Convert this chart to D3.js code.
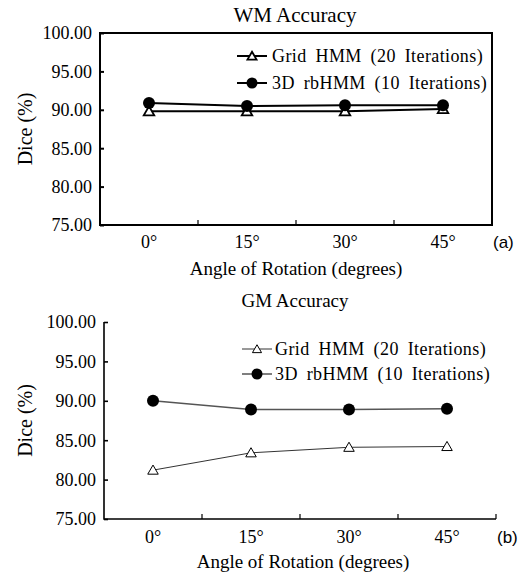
<!DOCTYPE html>
<html>
<head>
<meta charset="utf-8">
<script src="https://cdn.jsdelivr.net/npm/d3@7"></script>
<style>
  body { margin: 0; background: #fff; }
</style>
</head>
<body>
<div id="chartMain"></div>
<script>
const angles = ["0°", "15°", "30°", "45°"];
const yTicks = [75, 80, 85, 90, 95, 100];
const seriesNames = ["Grid HMM (20 Iterations)", "3D rbHMM (10 Iterations)"];
const wmGrid = [89.8, 89.8, 89.8, 90.1];
const wmRb = [90.9, 90.5, 90.6, 90.6];
const gmGrid = [81.2, 83.4, 84.1, 84.2];
const gmRb = [90.0, 88.9, 88.9, 89.0];

const serif = '"Liberation Serif", "Times New Roman", serif';

const svg = d3.select('#chartMain')
    .append('svg')
    .attr('width', 524)
    .attr('height', 573)
    .style('font-family', serif);

function drawPanel(p) {
    const g = svg.append('g').attr('transform', `translate(${p.left},${p.top})`);
    const w = p.width, h = p.height;

    const x = d3.scaleBand().domain(angles).range([0, w]).padding(0);
    const y = d3.scaleLinear().domain([75, 100]).range([h, 0]);

    // title
    g.append('text')
        .attr('x', p.titleX - p.left)
        .attr('y', p.titleDy)
        .attr('text-anchor', 'middle')
        .style('font-size', p.titleSize + 'px')
        .text(p.title);

    // y axis: inward ticks
    const yAxis = d3.axisRight(y).tickValues(yTicks).tickSize(4);
    const ya = g.append('g').call(yAxis);
    ya.select('.domain').remove();
    ya.selectAll('text').remove();
    ya.selectAll('line').attr('stroke', '#000').attr('stroke-width', p.axisW);
    g.selectAll('.ylab')
        .data(yTicks)
        .join('text')
        .attr('class', 'ylab')
        .attr('x', -8)
        .attr('y', d => y(d))
        .attr('dy', '0.35em')
        .attr('text-anchor', 'end')
        .style('font-size', '18px')
        .text(d3.format('.2f'));

    // x ticks at band boundaries, pointing up
    const bounds = p.frame ? [1, 2, 3] : [1, 2, 3, 4];
    g.selectAll('.xtick')
        .data(bounds)
        .join('line')
        .attr('x1', i => x.step() * i)
        .attr('x2', i => x.step() * i)
        .attr('y1', h)
        .attr('y2', h - 5)
        .attr('stroke', '#000')
        .attr('stroke-width', 1.2);

    g.selectAll('.xlab')
        .data(angles)
        .join('text')
        .attr('x', d => x(d) + x.bandwidth() / 2)
        .attr('y', h + p.xLabDy)
        .attr('text-anchor', 'middle')
        .style('font-size', '18px')
        .text(d => d);

    // frame / axes
    if (p.frame) {
        g.append('rect')
            .attr('width', w).attr('height', h)
            .attr('fill', 'none').attr('stroke', '#000').attr('stroke-width', p.axisW);
    } else {
        g.append('path')
            .attr('d', `M0,0V${h}H${w}`)
            .attr('fill', 'none').attr('stroke', '#000').attr('stroke-width', p.axisW);
    }

    // axis titles
    g.append('text')
        .attr('x', p.xTitleX - p.left)
        .attr('y', h + p.xTitleDy)
        .attr('text-anchor', 'middle')
        .style('font-size', '19px')
        .text('Angle of Rotation (degrees)');

    g.append('text')
        .attr('transform', `translate(${25 - p.left},${h / 2}) rotate(-90)`)
        .attr('dy', '0.35em')
        .attr('text-anchor', 'middle')
        .style('font-size', '20px')
        .text('Dice (%)');

    g.append('text')
        .attr('x', w + 1)
        .attr('y', h + p.xLabDy)
        .style('font-family', '"Liberation Sans", Arial, sans-serif')
        .style('font-size', '17px')
        .text(p.tag);

    // series
    const line = d3.line()
        .x((d, i) => x(angles[i]) + x.bandwidth() / 2)
        .y(d => y(d));

    const tri = d3.symbol().type(d3.symbolTriangle).size(48);

    g.append('path')
        .datum(p.grid)
        .attr('fill', 'none')
        .attr('stroke', p.gridColor)
        .attr('stroke-width', p.gridW)
        .attr('d', line);

    g.append('path')
        .datum(p.rb)
        .attr('fill', 'none')
        .attr('stroke', p.rbColor)
        .attr('stroke-width', p.rbW)
        .attr('d', line);

    g.selectAll('.tri')
        .data(p.grid)
        .join('path')
        .attr('transform', (d, i) => `translate(${x(angles[i]) + x.bandwidth() / 2},${y(d) + 1})`)
        .attr('d', tri)
        .attr('fill', '#fff')
        .attr('stroke', '#000')
        .attr('stroke-width', p.triW);

    g.selectAll('.dot')
        .data(p.rb)
        .join('circle')
        .attr('cx', (d, i) => x(angles[i]) + x.bandwidth() / 2)
        .attr('cy', d => y(d))
        .attr('r', 6)
        .attr('fill', '#000');

    // legend
    const lg = g.append('g').attr('transform', `translate(${p.legX - p.left},${p.legY - p.top})`);
    [0, 1].forEach(k => {
        const ry = k * p.legGap;
        lg.append('line')
            .attr('x1', 0).attr('x2', 30)
            .attr('y1', ry).attr('y2', ry)
            .attr('stroke', k === 0 ? p.gridColor : p.rbColor)
            .attr('stroke-width', k === 0 ? p.gridW : p.rbW);
        if (k === 0) {
            lg.append('path')
                .attr('transform', `translate(15,${ry + 1})`)
                .attr('d', d3.symbol().type(d3.symbolTriangle).size(36))
                .attr('fill', '#fff').attr('stroke', '#000').attr('stroke-width', p.triW);
        } else {
            lg.append('circle')
                .attr('cx', 15).attr('cy', ry).attr('r', 5.5).attr('fill', '#000');
        }
        lg.append('text')
            .attr('x', p.legTextDx)
            .attr('y', ry)
            .attr('dy', '0.35em')
            .style('font-size', '18px')
            .style('letter-spacing', '0.4px')
            .style('word-spacing', '4px')
            .text(seriesNames[k]);
    });
}

drawPanel({
    title: 'WM Accuracy', titleX: 295, titleDy: -11, titleSize: 21, tag: '(a)',
    left: 100, top: 33, width: 392, height: 192,
    frame: true, axisW: 2,
    grid: wmGrid, rb: wmRb,
    gridColor: '#000', gridW: 2, rbColor: '#000', rbW: 2, triW: 1.8,
    xLabDy: 23, xTitleDy: 50, xTitleX: 296,
    legX: 237, legY: 56, legGap: 27, legTextDx: 35
});

drawPanel({
    title: 'GM Accuracy', titleX: 295, titleDy: -15, titleSize: 19, tag: '(b)',
    left: 104, top: 322, width: 392, height: 197,
    frame: false, axisW: 1.6,
    grid: gmGrid, rb: gmRb,
    gridColor: '#333', gridW: 1, rbColor: '#555', rbW: 1.5, triW: 1,
    xLabDy: 24, xTitleDy: 49, xTitleX: 303,
    legX: 242, legY: 349, legGap: 25, legTextDx: 33
});
</script>
</body>
</html>
